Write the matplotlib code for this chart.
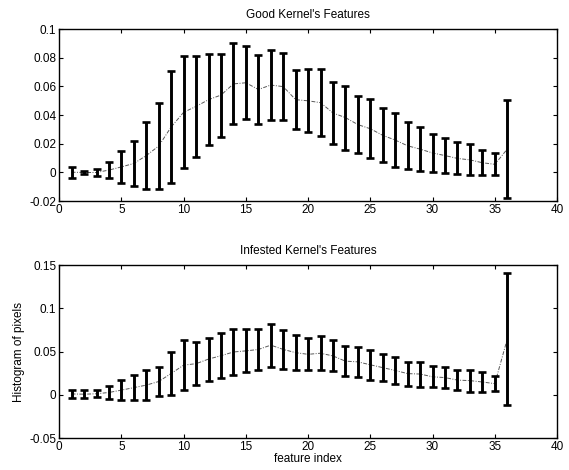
import matplotlib
matplotlib.use("Agg")
import matplotlib.pyplot as plt
import numpy as np

plt.rcParams["font.family"] = ["Liberation Sans", "DejaVu Sans"]

# feature index 1..36, mean +/- std
feature_idx = np.arange(1, 37)

good_mean = [0.0002, 0.0000, 0.0000, 0.0017, 0.0039, 0.0063, 0.0118, 0.0185,
             0.0318, 0.0420, 0.0461, 0.0508, 0.0540, 0.0618, 0.0626, 0.0579,
             0.0610, 0.0599, 0.0508, 0.0500, 0.0487, 0.0415, 0.0383, 0.0334,
             0.0305, 0.0259, 0.0226, 0.0186, 0.0163, 0.0136, 0.0118, 0.0098,
             0.0088, 0.0068, 0.0057, 0.0163]
good_std = [0.0037, 0.0012, 0.0027, 0.0053, 0.0110, 0.0156, 0.0231, 0.0299,
            0.0390, 0.0392, 0.0352, 0.0318, 0.0290, 0.0283, 0.0256, 0.0240,
            0.0243, 0.0232, 0.0206, 0.0221, 0.0234, 0.0213, 0.0223, 0.0201,
            0.0207, 0.0189, 0.0187, 0.0163, 0.0152, 0.0132, 0.0125, 0.0112,
            0.0108, 0.0088, 0.0077, 0.0343]

inf_mean = [0.0010, 0.0007, 0.0012, 0.0027, 0.0054, 0.0083, 0.0112, 0.0154,
            0.0247, 0.0343, 0.0360, 0.0413, 0.0452, 0.0495, 0.0508, 0.0524,
            0.0574, 0.0525, 0.0487, 0.0468, 0.0481, 0.0449, 0.0389, 0.0381,
            0.0347, 0.0314, 0.0281, 0.0245, 0.0240, 0.0208, 0.0199, 0.0170,
            0.0164, 0.0148, 0.0129, 0.0645]
inf_std = [0.0048, 0.0045, 0.0040, 0.0077, 0.0119, 0.0148, 0.0170, 0.0173,
           0.0247, 0.0293, 0.0245, 0.0249, 0.0260, 0.0264, 0.0250, 0.0235,
           0.0247, 0.0225, 0.0206, 0.0187, 0.0200, 0.0179, 0.0170, 0.0177,
           0.0174, 0.0160, 0.0154, 0.0140, 0.0145, 0.0120, 0.0122, 0.0120,
           0.0126, 0.0121, 0.0090, 0.0760]

good_yticks = [-0.02, 0, 0.02, 0.04, 0.06, 0.08, 0.1]
good_ylabels = ["-0.02", "0", "0.02", "0.04", "0.06", "0.08", "0.1"]
inf_yticks = [-0.05, 0, 0.05, 0.1, 0.15]
inf_ylabels = ["-0.05", "0", "0.05", "0.1", "0.15"]
xticks = [0, 5, 10, 15, 20, 25, 30, 35, 40]

FS = 8.5


def panel(ax, mean, std, title, yticks, ylabels):
    ax.plot(feature_idx, mean, linestyle=(0, (4, 1.5, 1, 1.5)), color="0.35",
            lw=0.7, zorder=1)
    ax.errorbar(feature_idx, mean, yerr=std, fmt="none", ecolor="black",
                elinewidth=2.1, capsize=3.0, capthick=1.9, zorder=2)
    ax.set_xlim(0, 40)
    ax.set_ylim(yticks[0], yticks[-1])
    ax.set_xticks(xticks)
    ax.set_xticklabels([str(t) for t in xticks], fontsize=FS)
    ax.set_yticks(yticks)
    ax.set_yticklabels(ylabels, fontsize=FS)
    ax.tick_params(direction="in", top=True, right=True, length=3, width=0.8,
                   pad=2)
    for s in ax.spines.values():
        s.set_linewidth(1.0)
    ax.set_title(title, fontsize=FS, pad=8)


fig = plt.figure(figsize=(5.69, 4.70), dpi=100)
ax1 = fig.add_axes([0.104, 0.572, 0.875, 0.366])
ax2 = fig.add_axes([0.104, 0.068, 0.875, 0.368])

panel(ax1, good_mean, good_std, "Good Kernel's Features",
      good_yticks, good_ylabels)
panel(ax2, inf_mean, inf_std, "Infested Kernel's Features",
      inf_yticks, inf_ylabels)
ax2.set_ylabel("Histogram of pixels", fontsize=FS, labelpad=3)
ax2.set_xlabel("feature index", fontsize=FS, labelpad=0)

fig.savefig("out.png", dpi=100)
